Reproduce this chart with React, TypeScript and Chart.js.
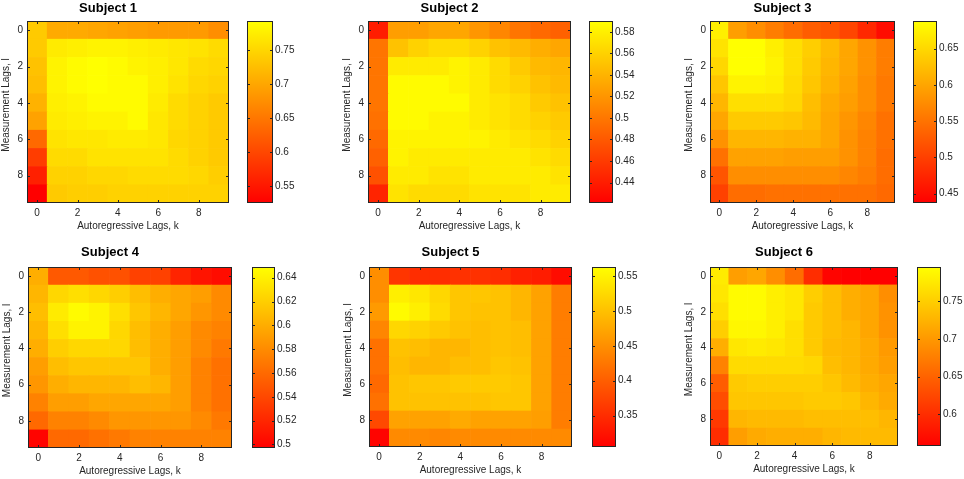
import { useEffect, useRef } from "react"
import { Chart, registerables } from "chart.js"

Chart.register(...registerables)

// lag indices (rows = measurement lag l, columns = autoregressive lag k)
const lags = [0, 1, 2, 3, 4, 5, 6, 7, 8, 9]
const lagTicks = [0, 2, 4, 6, 8]

const subjectNames = ["Subject 1", "Subject 2", "Subject 3", "Subject 4", "Subject 5", "Subject 6"]

const subject1 = [
  [0.735, 0.705, 0.705, 0.7, 0.695, 0.69, 0.685, 0.685, 0.685, 0.675],
  [0.735, 0.77, 0.775, 0.78, 0.78, 0.775, 0.77, 0.765, 0.76, 0.755],
  [0.73, 0.78, 0.785, 0.79, 0.785, 0.78, 0.775, 0.765, 0.755, 0.75],
  [0.725, 0.78, 0.785, 0.79, 0.785, 0.785, 0.775, 0.76, 0.75, 0.745],
  [0.71, 0.775, 0.78, 0.785, 0.785, 0.785, 0.77, 0.755, 0.745, 0.735],
  [0.695, 0.77, 0.775, 0.78, 0.78, 0.785, 0.765, 0.755, 0.745, 0.735],
  [0.635, 0.76, 0.765, 0.765, 0.77, 0.77, 0.765, 0.75, 0.745, 0.735],
  [0.59, 0.755, 0.755, 0.76, 0.76, 0.76, 0.76, 0.755, 0.745, 0.735],
  [0.56, 0.745, 0.745, 0.75, 0.75, 0.755, 0.755, 0.755, 0.75, 0.74],
  [0.528, 0.735, 0.74, 0.74, 0.745, 0.745, 0.745, 0.745, 0.745, 0.745],
]

const subject2 = [
  [0.441, 0.525, 0.525, 0.53, 0.53, 0.52, 0.51, 0.5, 0.49, 0.485],
  [0.5, 0.55, 0.56, 0.565, 0.565, 0.56, 0.55, 0.545, 0.535, 0.53],
  [0.5, 0.575, 0.575, 0.575, 0.58, 0.575, 0.565, 0.555, 0.545, 0.54],
  [0.5, 0.585, 0.585, 0.585, 0.58, 0.575, 0.565, 0.56, 0.55, 0.545],
  [0.5, 0.585, 0.585, 0.585, 0.585, 0.575, 0.57, 0.565, 0.555, 0.55],
  [0.495, 0.585, 0.585, 0.58, 0.58, 0.575, 0.57, 0.565, 0.56, 0.555],
  [0.49, 0.58, 0.58, 0.58, 0.58, 0.58, 0.575, 0.57, 0.565, 0.56],
  [0.485, 0.58, 0.575, 0.575, 0.575, 0.575, 0.575, 0.575, 0.57, 0.565],
  [0.475, 0.575, 0.575, 0.57, 0.57, 0.575, 0.575, 0.575, 0.575, 0.57],
  [0.445, 0.57, 0.565, 0.565, 0.565, 0.57, 0.57, 0.57, 0.575, 0.575],
]

const subject3 = [
  [0.67, 0.59, 0.575, 0.56, 0.545, 0.53, 0.52, 0.505, 0.48, 0.45],
  [0.66, 0.685, 0.685, 0.67, 0.655, 0.64, 0.62, 0.6, 0.58, 0.56],
  [0.645, 0.685, 0.685, 0.675, 0.655, 0.635, 0.615, 0.6, 0.58, 0.56],
  [0.63, 0.675, 0.675, 0.67, 0.65, 0.63, 0.61, 0.595, 0.575, 0.555],
  [0.615, 0.655, 0.655, 0.655, 0.645, 0.625, 0.605, 0.59, 0.575, 0.555],
  [0.6, 0.635, 0.635, 0.635, 0.63, 0.62, 0.6, 0.585, 0.57, 0.55],
  [0.58, 0.615, 0.615, 0.615, 0.61, 0.61, 0.6, 0.58, 0.565, 0.55],
  [0.55, 0.595, 0.595, 0.595, 0.59, 0.59, 0.59, 0.58, 0.565, 0.545],
  [0.52, 0.575, 0.575, 0.575, 0.575, 0.575, 0.575, 0.57, 0.56, 0.545],
  [0.5, 0.545, 0.545, 0.55, 0.55, 0.55, 0.55, 0.55, 0.55, 0.54],
]

const subject4 = [
  [0.6, 0.55, 0.55, 0.545, 0.545, 0.535, 0.535, 0.52, 0.51, 0.505],
  [0.605, 0.625, 0.63, 0.625, 0.62, 0.61, 0.6, 0.595, 0.59, 0.58],
  [0.61, 0.635, 0.645, 0.64, 0.63, 0.615, 0.605, 0.595, 0.585, 0.58],
  [0.605, 0.63, 0.64, 0.64, 0.625, 0.61, 0.6, 0.59, 0.58, 0.575],
  [0.6, 0.62, 0.625, 0.625, 0.625, 0.61, 0.6, 0.59, 0.58, 0.57],
  [0.59, 0.61, 0.615, 0.615, 0.615, 0.615, 0.6, 0.59, 0.575, 0.565],
  [0.585, 0.6, 0.605, 0.605, 0.605, 0.61, 0.605, 0.59, 0.575, 0.565],
  [0.575, 0.59, 0.59, 0.595, 0.595, 0.595, 0.595, 0.59, 0.575, 0.565],
  [0.56, 0.575, 0.575, 0.58, 0.585, 0.585, 0.585, 0.585, 0.58, 0.57],
  [0.5, 0.56, 0.56, 0.565, 0.57, 0.575, 0.575, 0.575, 0.575, 0.575],
]

const subject5 = [
  [0.45, 0.36, 0.35, 0.35, 0.355, 0.355, 0.35, 0.34, 0.335, 0.32],
  [0.45, 0.545, 0.535, 0.52, 0.505, 0.505, 0.5, 0.49, 0.47, 0.43],
  [0.46, 0.555, 0.545, 0.525, 0.505, 0.5, 0.5, 0.49, 0.47, 0.43],
  [0.44, 0.52, 0.515, 0.51, 0.5, 0.495, 0.5, 0.495, 0.47, 0.43],
  [0.42, 0.5, 0.495, 0.49, 0.49, 0.495, 0.5, 0.495, 0.47, 0.43],
  [0.42, 0.495, 0.49, 0.49, 0.495, 0.495, 0.505, 0.5, 0.47, 0.43],
  [0.41, 0.5, 0.505, 0.505, 0.51, 0.51, 0.51, 0.505, 0.47, 0.43],
  [0.42, 0.5, 0.5, 0.5, 0.5, 0.5, 0.505, 0.505, 0.47, 0.43],
  [0.38, 0.47, 0.47, 0.47, 0.475, 0.47, 0.47, 0.47, 0.465, 0.43],
  [0.31, 0.445, 0.445, 0.44, 0.445, 0.445, 0.445, 0.445, 0.445, 0.445],
]

const subject6 = [
  [0.775, 0.705, 0.71, 0.69, 0.66, 0.6, 0.565, 0.56, 0.56, 0.56],
  [0.77, 0.79, 0.79, 0.78, 0.77, 0.75, 0.735, 0.72, 0.71, 0.69],
  [0.765, 0.79, 0.79, 0.78, 0.77, 0.745, 0.735, 0.72, 0.71, 0.695],
  [0.75, 0.785, 0.785, 0.78, 0.765, 0.745, 0.735, 0.725, 0.71, 0.695],
  [0.72, 0.77, 0.775, 0.77, 0.765, 0.745, 0.73, 0.725, 0.715, 0.7],
  [0.68, 0.76, 0.76, 0.76, 0.76, 0.755, 0.735, 0.725, 0.715, 0.705],
  [0.645, 0.745, 0.75, 0.75, 0.75, 0.75, 0.74, 0.73, 0.72, 0.71],
  [0.63, 0.74, 0.74, 0.74, 0.74, 0.745, 0.745, 0.74, 0.725, 0.715],
  [0.61, 0.725, 0.73, 0.73, 0.73, 0.735, 0.735, 0.735, 0.735, 0.725],
  [0.6, 0.705, 0.715, 0.72, 0.72, 0.72, 0.725, 0.73, 0.73, 0.73],
]

const subjectData = [subject1, subject2, subject3, subject4, subject5, subject6]

// colour limits (colorbar range) and colorbar tick labels
const colorLimits = [
  [0.525, 0.793],
  [0.421, 0.59],
  [0.437, 0.688],
  [0.497, 0.649],
  [0.305, 0.563],
  [0.558, 0.795],
]

const colorbarTicks = [
  [0.55, 0.6, 0.65, 0.7, 0.75],
  [0.44, 0.46, 0.48, 0.5, 0.52, 0.54, 0.56, 0.58],
  [0.45, 0.5, 0.55, 0.6, 0.65],
  [0.5, 0.52, 0.54, 0.56, 0.58, 0.6, 0.62, 0.64],
  [0.35, 0.4, 0.45, 0.5, 0.55],
  [0.6, 0.65, 0.7, 0.75],
]

// page layout: plot box [left, top, right, bottom] and colorbar [left, right]
const panelBoxes = [
  { plot: [27, 21, 229, 203], bar: [247, 273], titleGap: 13 },
  { plot: [368, 21, 571, 203], bar: [589, 613], titleGap: 13 },
  { plot: [710, 21, 895, 203], bar: [913, 937], titleGap: 13 },
  { plot: [28, 267, 232, 448], bar: [252, 275], titleGap: 14.2 },
  { plot: [369, 267, 572, 447], bar: [592, 616], titleGap: 14.2 },
  { plot: [710, 267, 898, 446], bar: [917, 941], titleGap: 14.2 },
]

const FONT = "'Liberation Sans', Arial, Helvetica, sans-serif"
const INK = "#262626"

// MATLAB "autumn" colormap, 64 levels
function autumn(v: number, lo: number, hi: number) {
  const t = Math.min(1, Math.max(0, (v - lo) / (hi - lo)))
  const idx = Math.min(63, Math.floor(t * 64))
  return `rgb(255,${Math.round((idx / 63) * 255)},0)`
}

const fmt = (v: number) => String(Number(v.toFixed(3)))

// box around the axes, inward tick marks, rotated y label
const framePlugin = {
  id: "frame",
  afterDraw(chart: any, _args: any, opts: any) {
    const { ctx, chartArea: a } = chart
    ctx.save()
    ctx.strokeStyle = INK
    ctx.lineWidth = 1
    ctx.strokeRect(a.left + 0.5, a.top + 0.5, a.width - 1, a.height - 1)
    const len = 3
    ctx.beginPath()
    Object.values(chart.scales).forEach((scale: any) => {
      if (!scale.options.display) return
      scale.ticks.forEach((t: any) => {
        const p = Math.round(scale.getPixelForValue(t.value)) + 0.5
        if (scale.isHorizontal()) {
          ctx.moveTo(p, a.bottom)
          ctx.lineTo(p, a.bottom - len)
          ctx.moveTo(p, a.top)
          ctx.lineTo(p, a.top + len)
        } else {
          ctx.moveTo(a.left, p)
          ctx.lineTo(a.left + len, p)
          ctx.moveTo(a.right, p)
          ctx.lineTo(a.right - len, p)
        }
      })
    })
    ctx.stroke()
    if (opts && opts.yLabel) {
      ctx.translate(a.left - 20.5, (a.top + a.bottom) / 2 - 7)
      ctx.rotate(-Math.PI / 2)
      ctx.fillStyle = INK
      ctx.font = `10px ${FONT}`
      ctx.textAlign = "center"
      ctx.textBaseline = "middle"
      ctx.fillText(opts.yLabel, 0, 0)
    }
    ctx.restore()
  },
}

const tickFont = { family: FONT, size: 10 }

function Heatmap({ index }: { index: number }) {
  const canvasRef = useRef<HTMLCanvasElement>(null)
  const barRef = useRef<HTMLCanvasElement>(null)
  const box = panelBoxes[index]
  const [L, T, R, B] = box.plot
  const [bl, br] = box.bar
  const [lo, hi] = colorLimits[index]

  useEffect(() => {
    if (!canvasRef.current || !barRef.current) return
    const matrix = subjectData[index]
    const cells: any[] = []
    const colors: string[] = []
    matrix.forEach((row, l) => {
      row.forEach((v, k) => {
        cells.push({ x: lags[k], y: [lags[l] - 0.5, lags[l] + 0.5] })
        colors.push(autumn(v, lo, hi))
      })
    })
    const setLagTicks = (s: any) => {
      s.ticks = lagTicks.map((v) => ({ value: v }))
    }
    const titleBottom = box.titleGap - 7.8

    const heat = new Chart(canvasRef.current, {
      type: "bar",
      data: {
        datasets: [
          {
            data: cells,
            backgroundColor: colors,
            borderWidth: 0,
            barPercentage: 1,
            categoryPercentage: 1,
          },
        ],
      },
      options: {
        animation: false,
        responsive: false,
        events: [],
        layout: { padding: { top: 24 - 15.6 - titleBottom, right: 40, bottom: 0, left: 0 } },
        plugins: {
          legend: { display: false },
          tooltip: { enabled: false },
          title: {
            display: true,
            text: subjectNames[index],
            color: "#000",
            font: { family: FONT, size: 13, weight: "bold" },
            padding: { top: 0, bottom: titleBottom },
          },
          frame: { yLabel: "Measurement Lags, l" },
        } as any,
        scales: {
          x: {
            type: "linear",
            offset: false,
            min: -0.5,
            max: 9.5,
            afterBuildTicks: setLagTicks,
            afterFit: (s: any) => {
              s.height = 40
            },
            grid: { display: false, drawTicks: false },
            border: { display: false },
            ticks: { color: INK, font: tickFont, padding: 4, maxRotation: 0, autoSkip: false },
            title: {
              display: true,
              text: "Autoregressive Lags, k",
              color: INK,
              font: tickFont,
              padding: { top: 0, bottom: 10.5 },
            },
          },
          y: {
            type: "linear",
            reverse: true,
            min: -0.5,
            max: 9.5,
            afterBuildTicks: setLagTicks,
            afterFit: (s: any) => {
              s.width = 40
            },
            grid: { display: false, drawTicks: false },
            border: { display: false },
            ticks: { color: INK, font: tickFont, padding: 4, autoSkip: false },
          },
        },
      },
      plugins: [framePlugin],
    })

    const bar = new Chart(barRef.current, {
      type: "bar",
      data: {
        labels: [""],
        datasets: [
          {
            data: [[lo, hi]],
            backgroundColor: (c: any) => {
              const area = c.chart.chartArea
              if (!area) return "#ff0000"
              const g = c.chart.ctx.createLinearGradient(0, area.bottom, 0, area.top)
              g.addColorStop(0, "#ff0000")
              g.addColorStop(1, "#ffff00")
              return g
            },
            borderWidth: 0,
            barPercentage: 1,
            categoryPercentage: 1,
          },
        ],
      },
      options: {
        animation: false,
        responsive: false,
        events: [],
        layout: { padding: { top: 10, bottom: 10, left: 0, right: 0 } },
        plugins: { legend: { display: false }, tooltip: { enabled: false } },
        scales: {
          x: { display: false },
          y: {
            position: "right",
            min: lo,
            max: hi,
            afterBuildTicks: (s: any) => {
              s.ticks = colorbarTicks[index].map((v) => ({ value: v }))
            },
            afterFit: (s: any) => {
              s.width = 40
            },
            grid: { display: false, drawTicks: false },
            border: { display: false },
            ticks: { color: INK, font: tickFont, padding: 2, autoSkip: false, callback: (v: any) => fmt(Number(v)) },
          },
        },
      },
      plugins: [framePlugin],
    })

    return () => {
      heat.destroy()
      bar.destroy()
    }
  }, [index])

  const hw = R - L + 80
  const hh = B - T + 24 + 40
  const bw = br - bl + 40
  const bh = B - T + 20
  return (
    <>
      <canvas
        ref={canvasRef}
        width={hw}
        height={hh}
        style={{ position: "absolute", left: L - 40, top: T - 24, width: hw, height: hh }}
      />
      <canvas
        ref={barRef}
        width={bw}
        height={bh}
        style={{ position: "absolute", left: bl, top: T - 10, width: bw, height: bh }}
      />
    </>
  )
}

export default function App() {
  return (
    <div
      style={{
        position: "absolute",
        left: 0,
        top: 0,
        width: 964,
        height: 479,
        overflow: "hidden",
        background: "#fff",
      }}
    >
      {subjectNames.map((_, i) => (
        <Heatmap key={i} index={i} />
      ))}
    </div>
  )
}
